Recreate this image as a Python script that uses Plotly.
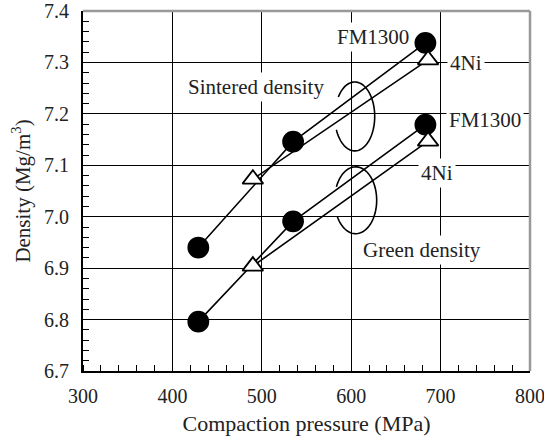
import numpy as np
import plotly.graph_objects as go

# Data
fm_sint_x = [429, 535, 683]
fm_sint_y = [6.940, 7.146, 7.338]
ni_sint_x = [490, 686]
ni_sint_y = [7.073, 7.305]
fm_green_x = [429, 535, 683]
fm_green_y = [6.796, 6.991, 7.179]
ni_green_x = [490, 686]
ni_green_y = [6.904, 7.147]

x_ticks = [300, 400, 500, 600, 700, 800]
y_ticks = [6.7, 6.8, 6.9, 7.0, 7.1, 7.2, 7.3, 7.4]

FONT = "Liberation Serif, Times New Roman, DejaVu Serif, serif"
fig = go.Figure()

def add(xs, ys, symbol, filled):
    fig.add_trace(go.Scatter(
        x=xs, y=ys, mode="lines+markers",
        line=dict(color="black", width=1.6),
        marker=dict(symbol=symbol, size=20 if symbol == "circle" else 18,
                    color="black" if filled else "white",
                    line=dict(color="black", width=1.8)),
        showlegend=False, cliponaxis=False))

add(fm_sint_x, fm_sint_y, "circle", True)
add(ni_sint_x, ni_sint_y, "triangle-up", False)
add(fm_green_x, fm_green_y, "circle", True)
add(ni_green_x, ni_green_y, "triangle-up", False)

def arc(cx, cy, rx, ry, t0, t1):
    t = np.linspace(t0, t1, 80)
    xs = cx + rx * np.cos(t)
    ys = cy + ry * np.sin(t)
    return "M " + " L ".join(f"{a:.3f},{b:.4f}" for a, b in zip(xs, ys))

shapes = [
    dict(type="path", xref="x", yref="y", path=arc(604, 7.195, 22.3, 0.067, 3.54, 2.54 + 2*np.pi),
         line=dict(color="black", width=1.6)),
    dict(type="path", xref="x", yref="y", path=arc(605, 7.032, 23.5, 0.065, 3.65, 2.73 + 2*np.pi),
         line=dict(color="black", width=1.6)),
    # top & right frame (gray)
    dict(type="line", xref="paper", yref="paper", x0=0, x1=1, y0=1, y1=1,
         line=dict(color="#999999", width=2.5)),
    dict(type="line", xref="paper", yref="paper", x0=1, x1=1, y0=0, y1=1,
         line=dict(color="#999999", width=2.5)),
]

def ann(text, x, y, xanchor="center"):
    return dict(text=text, x=x, y=y, xref="x", yref="y", showarrow=False,
                xanchor=xanchor, yanchor="middle", bgcolor="white", borderpad=2,
                font=dict(family=FONT, size=21, color="#222"))

annotations = [
    ann("FM1300", 668, 7.350, "right"),
    ann("4Ni", 728, 7.299),
    ann("FM1300", 750, 7.188),
    ann("4Ni", 696, 7.085),
    ann("Sintered density", 494, 7.252),
    ann("Green density", 679, 6.936),
]

fig.update_layout(
    width=544, height=436,
    margin=dict(l=83, r=14, t=11, b=65),
    paper_bgcolor="white", plot_bgcolor="white",
    font=dict(family=FONT, size=20, color="#222"),
    shapes=shapes, annotations=annotations,
    xaxis=dict(range=[300, 800], tickvals=x_ticks, ticks="", showgrid=True,
               gridcolor="black", gridwidth=1, showline=True, linecolor="black",
               linewidth=2, zeroline=False, automargin=False, ticklabeloverflow="allow",
               ticklabelstandoff=6,
               minor=dict(ticks="inside", dtick=20, ticklen=6, tickcolor="black", showgrid=False),
               title=dict(text="Compaction pressure (MPa)", standoff=10,
                          font=dict(family=FONT, size=22)),
               tickfont=dict(family=FONT, size=20)),
    yaxis=dict(range=[6.7, 7.4], tickvals=y_ticks, ticktext=[f"{v:.1f}" for v in y_ticks],
               ticks="", showgrid=True, gridcolor="black", gridwidth=1,
               showline=True, linecolor="black", linewidth=2, zeroline=False,
               automargin=False, ticklabeloverflow="allow", ticklabelstandoff=8,
               minor=dict(ticks="inside", dtick=0.02, ticklen=6, tickcolor="black", showgrid=False),
               title=dict(text="Density (Mg/m<sup>3</sup>)", standoff=8,
                          font=dict(family=FONT, size=21)),
               tickfont=dict(family=FONT, size=20)),
)

fig.write_html("out.html")
